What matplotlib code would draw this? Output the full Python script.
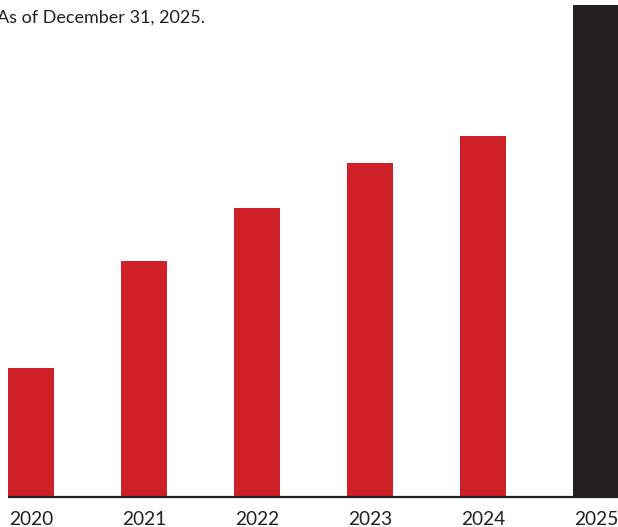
import matplotlib
matplotlib.use("Agg")
import matplotlib.pyplot as plt

years = ["2020", "2021", "2022", "2023", "2024", "2025"]
values = [128, 235, 288, 333, 360, 491]
colors = ["#cf2027", "#cf2027", "#cf2027", "#cf2027", "#cf2027", "#231f20"]
note = "As of December 31, 2025."

W, H = 618, 527
fig = plt.figure(figsize=(W / 100, H / 100), dpi=100)
base_px = 496  # from top
ax = fig.add_axes([0, (H - base_px) / H, 1, base_px / H])

step = 113.0
c0 = 31.0
x = list(range(len(years)))
ax.bar(x, values, width=46 / step, color=colors, zorder=2)
ax.set_xlim(-c0 / step, (W - c0) / step)
ax.set_ylim(0, base_px)

for s in ax.spines.values():
    s.set_visible(False)
ax.set_yticks([])
ax.set_xticks(x)
ax.set_xticklabels(years, fontsize=13.8, color="#231f20", family=["Lato", "DejaVu Sans"])
ax.tick_params(axis="x", length=0, pad=10.5)

# baseline
ax.plot([-(c0 - 8) / step, (W - c0) / step], [-1, -1], color="#231f20", lw=1.6,
        clip_on=False, zorder=3, solid_capstyle="butt")

fig.text(-3 / W, 1 - 18 / H, note, fontsize=13, color="#231f20",
         family=["Lato", "DejaVu Sans"], va="center", ha="left")

fig.savefig("out.png", dpi=100)
